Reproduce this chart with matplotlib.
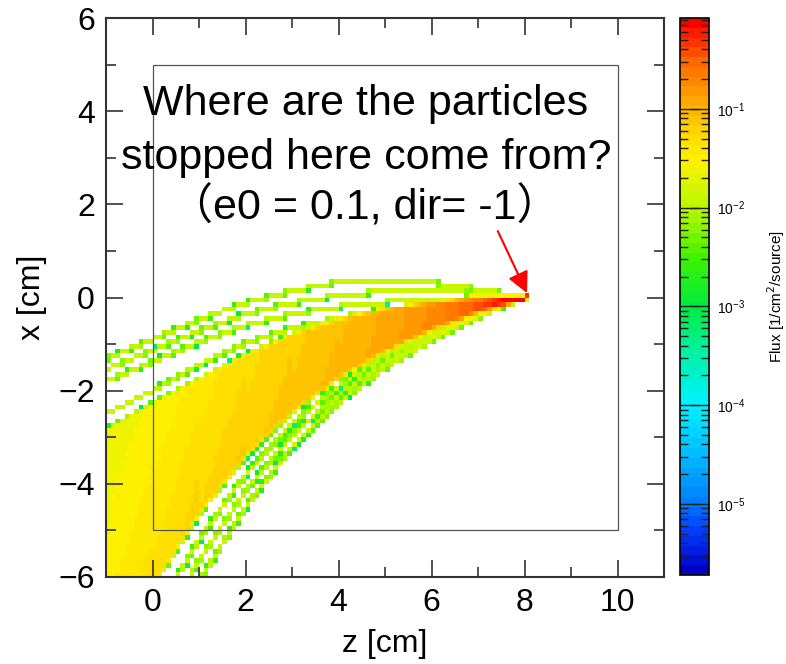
import numpy as np
import matplotlib.pyplot as plt
from matplotlib.colors import LogNorm, LinearSegmentedColormap
from matplotlib.patches import Rectangle
from matplotlib.ticker import LogLocator, MultipleLocator, NullFormatter

plt.rcParams['font.family'] = ['Liberation Sans', 'Noto Sans CJK JP', 'DejaVu Sans']

station_z = [8, 7, 6, 5, 4, 3, 2, 1, 0, -1]

# single tracks that stand apart from the main band
track_t1 = [0.00, 0.18, 0.32, 0.37, 0.33, 0.14, -0.12, -0.48, -0.90, -1.32]
track_t2 = [0.00, 0.09, 0.13, 0.13, 0.05, -0.12, -0.36, -0.72, -1.14, -1.54]
track_t3 = [0.00, 0.01, -0.04, -0.10, -0.20, -0.36, -0.60, -0.96, -1.38, -1.80]
track_t4 = [0.00, -0.04, -0.12, -0.26, -0.44, -0.66, -0.98, -1.45, -2.00, -2.50]
track_l1 = [0.00, -0.42, -0.92, -1.52, -2.25, -3.20, -4.50, -6.10, -7.90, -9.80]
track_l2 = [0.00, -0.38, -0.84, -1.40, -2.08, -2.95, -4.15, -5.65, -7.40, -9.20]
track_l3 = [0.00, -0.33, -0.75, -1.26, -1.90, -2.70, -3.80, -5.20, -6.90, -8.60]

# edges of the dense band of tracks
band_upper = [0.00, -0.04, -0.12, -0.26, -0.48, -0.80, -1.24, -1.76, -2.28, -2.85]
band_lower = [0.00, -0.30, -0.68, -1.15, -1.72, -2.45, -3.40, -4.65, -6.20, -7.90]
band_count = 90

flux_per_cm = 0.11   # flux of one track per cm of path in a 0.1 cm cell

# colour scale (log10 flux -> colour)
cb_log = [-5.72, -5.3, -5.0, -4.5, -4.0, -3.5, -3.0, -2.5, -2.0, -1.5, -1.25, -1.0, -0.5, -0.08]
cb_col = [(0.0, 0.0, 0.78), (0.0, 0.25, 1.0), (0.0, 0.5, 1.0), (0.0, 0.75, 1.0),
          (0.0, 0.95, 1.0), (0.0, 0.95, 0.65), (0.0, 0.92, 0.25), (0.25, 0.95, 0.0),
          (0.72, 0.97, 0.0), (0.99, 0.95, 0.0), (1.0, 0.86, 0.0), (1.0, 0.72, 0.0),
          (1.0, 0.42, 0.0), (1.0, 0.0, 0.0)]

vmin, vmax = 10 ** cb_log[0], 10 ** cb_log[-1]
pos = [(v - cb_log[0]) / (cb_log[-1] - cb_log[0]) for v in cb_log]
cmap = LinearSegmentedColormap.from_list('phits', list(zip(pos, cb_col)), N=57)
cmap.set_bad('white')

# mesh 0.1 cm
z_edges = np.linspace(-1, 11, 121)
x_edges = np.linspace(-6, 6, 121)
zz = np.arange(8.05, -1.0, -0.004)
zs = np.array(station_z[::-1], dtype=float)
flux = np.zeros((120, 120))


def add_track(xs):
    x = np.interp(zz, zs, np.array(xs[::-1], dtype=float))
    ds = np.hypot(np.diff(zz), np.diff(x))
    zm = 0.5 * (zz[1:] + zz[:-1])
    xm = 0.5 * (x[1:] + x[:-1])
    h, _, _ = np.histogram2d(zm, xm, bins=[z_edges, x_edges], weights=ds * flux_per_cm)
    return h


for tr in [track_t1, track_t2, track_t3, track_t4, track_l1, track_l2, track_l3]:
    flux += add_track(tr)

up = np.array(band_upper)
lo = np.array(band_lower)
for f in np.linspace(0, 1, band_count):
    flux += add_track(list(up + f * (lo - up)))

flux = np.ma.masked_less_equal(flux, 0)

fig = plt.figure(figsize=(7.86, 6.64), dpi=100)
ax = fig.add_axes([106 / 786, 1 - 577 / 664, 558 / 786, 559 / 664])
mesh = ax.pcolormesh(z_edges, x_edges, flux.T, cmap=cmap, norm=LogNorm(vmin=vmin, vmax=vmax),
                     rasterized=True)

ax.add_patch(Rectangle((0, -5), 10, 10, fill=False, ec='#555555', lw=0.9, zorder=3))

ax.set_xlim(-1, 11)
ax.set_ylim(-6, 6)
ax.xaxis.set_major_locator(MultipleLocator(2))
ax.xaxis.set_minor_locator(MultipleLocator(1))
ax.yaxis.set_major_locator(MultipleLocator(2))
ax.yaxis.set_minor_locator(MultipleLocator(1))
ax.tick_params(which='both', direction='in', top=True, right=True, labelsize=23, width=1.2,
               color='#333333')
ax.tick_params(which='major', length=12, pad=8)
ax.tick_params(which='minor', length=7)
for s in ax.spines.values():
    s.set_linewidth(1.5)
    s.set_color('#333333')
ax.set_xlabel('z [cm]', fontsize=23, labelpad=8)
ax.set_ylabel('x [cm]', fontsize=23, labelpad=8)

txt = dict(fontsize=31, ha='center', va='center', zorder=5)
ax.text(4.59, 4.15, 'Where are the particles', **txt)
ax.text(4.60, 3.00, 'stopped here come from?', **txt)
ax.text(4.56, 1.93, '（e0 = 0.1, dir= -1）', **txt)

ax.annotate('', xy=(8.08, 0.04), xytext=(7.4, 1.48),
            arrowprops=dict(arrowstyle='-|>', color='red', lw=1.5, mutation_scale=32),
            zorder=6)

cax = fig.add_axes([680 / 786, 1 - 575 / 664, 29 / 786, 557 / 664])
cb = fig.colorbar(mesh, cax=cax)
cb.outline.set_linewidth(1.2)
cax.yaxis.set_major_locator(LogLocator(base=10))
cax.yaxis.set_minor_locator(LogLocator(base=10, subs=np.arange(2, 10)))
cax.yaxis.set_minor_formatter(NullFormatter())
cax.tick_params(which='both', direction='in', left=True, right=True, labelsize=10,
                color='#222222', width=1.0)
cax.tick_params(which='major', length=14, pad=6)
cax.tick_params(which='minor', length=6)
cb.set_label('Flux [1/cm$^2$/source]', fontsize=11, labelpad=14)

fig.savefig('out.png', dpi=100)
